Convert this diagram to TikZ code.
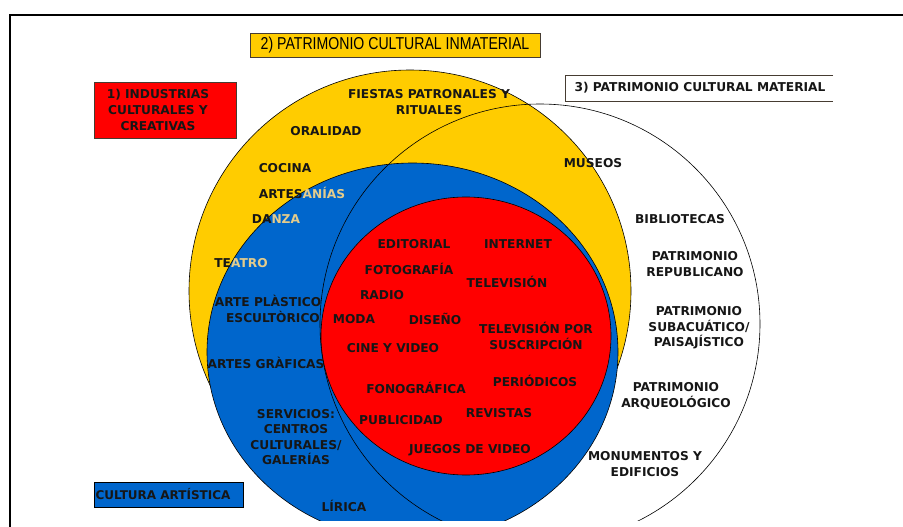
\documentclass[tikz,border=0pt]{standalone}
\usepackage{fontspec}
\setmainfont{DejaVu Sans}
\newfontfamily\narrowfont[FakeStretch=0.82]{Liberation Sans}
\definecolor{cyellow}{RGB}{255,204,0}
\definecolor{cblue}{RGB}{0,102,204}
\definecolor{cred}{RGB}{255,0,0}
\definecolor{ctan}{RGB}{228,204,140}
\definecolor{ctext}{RGB}{22,22,22}
\definecolor{cborder}{RGB}{70,60,50}
\tikzset{
  lbl/.style={font=\bfseries\fontsize{12.2}{15.6}\selectfont, text=ctext, align=center, inner sep=0pt},
  region/.style={draw=black, line width=0.6pt},
  titlebox/.style={draw=cborder, line width=0.8pt, anchor=north west, inner sep=0pt},
}
\begin{document}
\begin{tikzpicture}[x=1pt,y=-1pt]
\useasboundingbox (0,0) rectangle (903,527);
\fill[white] (0,0) rectangle (903,527);
% circles
\begin{scope}
  \clip (0,0) rectangle (903,520);
  \filldraw[fill=cyellow, region] (410,291) circle[radius=221];
  \filldraw[fill=cblue, region] (412.5,352) ellipse[x radius=205.5, y radius=189];
  \draw[region] (540,324) circle[radius=220];
  \filldraw[fill=cred, region] (466,336) ellipse[x radius=145, y radius=139];
\end{scope}
% frame
\draw[line width=2pt] (10,527) -- (10,15) -- (904,15);
% title boxes
\node[titlebox, fill=cred, minimum width=142, minimum height=56] (box1) at (94,82) {};
\node[lbl] (t1) at (158,110) {1) INDUSTRIAS\\CULTURALES Y\\CREATIVAS};
\node[titlebox, fill=cyellow, minimum width=290, minimum height=24] (box2) at (250,33) {};
\node[font=\narrowfont\fontsize{17.2}{18}\selectfont, text=black, inner sep=0pt] (t2) at (395,45) {2) PATRIMONIO CULTURAL INMATERIAL};
\coordinate (b3a) at (833,75);
\coordinate (b3b) at (565,75);
\coordinate (b3c) at (565,101);
\coordinate (b3d) at (833,101);
\draw[draw=cborder, line width=0.8pt] (b3a) -- (b3b) -- (b3c) -- (b3d);
\node[lbl] (t3) at (700,88) {3) PATRIMONIO CULTURAL MATERIAL};
\node[titlebox, draw=black, fill=cblue, minimum width=149, minimum height=25] (box4) at (94,482) {};
\node[lbl, font=\bfseries\fontsize{12}{14}\selectfont] (t4) at (163,494.5) {CULTURA ARTÍSTICA};
% yellow region
\node[lbl] (fiestas) at (429,102) {FIESTAS PATRONALES Y\\RITUALES};
\node[lbl] (oralidad) at (326,131) {ORALIDAD};
\node[lbl] (cocina) at (285,168) {COCINA};
\node[lbl] (artesanias) at (302,193) {ARTES\textcolor{ctan}{ANÍAS}};
\node[lbl] (danza) at (276,219) {DA\textcolor{ctan}{NZA}};
\node[lbl] (teatro) at (241,263) {TE\textcolor{ctan}{ATRO}};
\node[lbl] (museos) at (593,163) {MUSEOS};
% blue region
\node[lbl] (plastico) at (268,309) {ARTE PLÀSTICO\\\hspace*{10pt}ESCULTÒRICO};
\node[lbl] (graficas) at (266,363) {ARTES GRÀFICAS};
\node[lbl] (servicios) at (296,437) {SERVICIOS:\\CENTROS\\CULTURALES/\\GALERÍAS};
\node[lbl] (lirica) at (344,506) {LÍRICA};
% red region
\node[lbl] (editorial) at (414,244) {EDITORIAL};
\node[lbl] (internet) at (518,244) {INTERNET};
\node[lbl] (fotografia) at (409,269) {FOTOGRAFÍA};
\node[lbl] (television) at (507,282) {TELEVISIÓN};
\node[lbl] (radio) at (382,295) {RADIO};
\node[lbl] (moda) at (354,319) {MODA};
\node[lbl] (diseno) at (435,319) {DISEÑO};
\node[lbl] (tvsus) at (536,336) {TELEVISIÓN POR\\SUSCRIPCIÓN};
\node[lbl] (cine) at (393,348) {CINE Y VIDEO};
\node[lbl] (periodicos) at (535,381) {PERIÓDICOS};
\node[lbl] (fonografica) at (416,388) {FONOGRÁFICA};
\node[lbl] (revistas) at (499,413) {REVISTAS};
\node[lbl] (publicidad) at (401,420) {PUBLICIDAD};
\node[lbl] (juegos) at (470,450) {JUEGOS DE VIDEO};
% white region
\node[lbl] (bibliotecas) at (680,219) {BIBLIOTECAS};
\node[lbl] (republicano) at (695,264) {PATRIMONIO\\REPUBLICANO};
\node[lbl] (subacuatico) at (699,328) {PATRIMONIO\\SUBACUÁTICO/\\PAISAJÍSTICO};
\node[lbl] (arqueologico) at (676,396) {PATRIMONIO\\ARQUEOLÓGICO};
\node[lbl] (monumentos) at (645,464) {MONUMENTOS Y\\EDIFICIOS};
\end{tikzpicture}
\end{document}
